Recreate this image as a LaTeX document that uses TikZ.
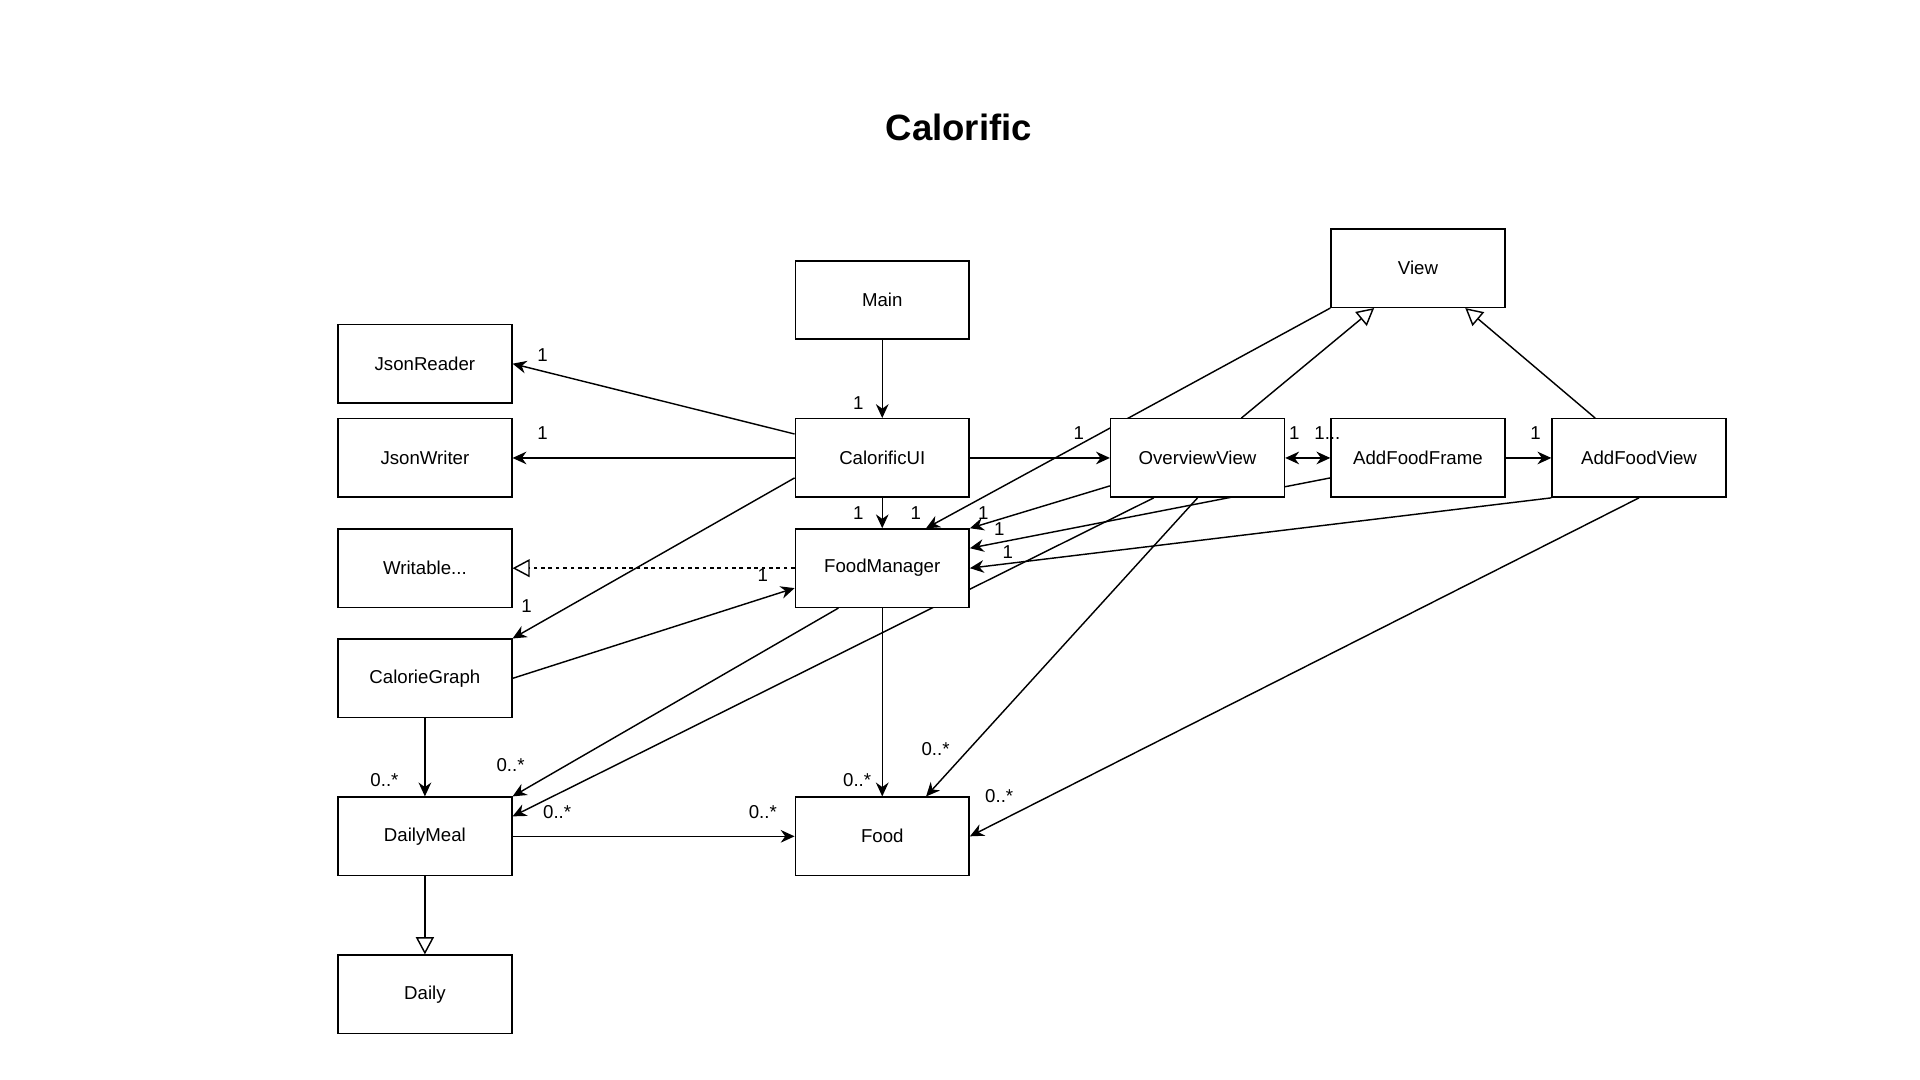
\documentclass[tikz,border=0pt]{standalone}
\usepackage{fontspec}
\setmainfont{Liberation Sans}
\usepackage{tikz}
\usetikzlibrary{arrows.meta, calc, backgrounds}
\tikzset{
    % one class of the model, a plain white box
    classbox/.style={draw, line width=1pt, fill=white, minimum width=42.6mm,
        minimum height=19.2mm, inner sep=0pt, font=\fontsize{13}{15}\selectfont},
    % associations with a filled head
    assoc/.style={-{Stealth[length=3.4mm, width=3.1mm]}, line width=1pt},
    % navigable both ways
    assocboth/.style={{Stealth[length=3.4mm, width=3.1mm]}-{Stealth[length=3.4mm, width=3.1mm]},
        line width=1pt},
    % generalisation, hollow triangle
    inherit/.style={-{Triangle[open, length=4.2mm, width=4.4mm]}, line width=1pt},
    % realisation of an interface
    realize/.style={inherit, dash pattern=on 0.9mm off 0.9mm},
    % multiplicities next to the ends
    mult/.style={font=\fontsize{13}{15}\selectfont, inner sep=0pt},
}

\begin{document}
\begin{tikzpicture}[x=0.3mm, y=-0.3mm]
    \useasboundingbox (0,0) rectangle (1568,882);

    \node[font=\bfseries\fontsize{25.5}{30}\selectfont] (title) at (783,104) {Calorific};

    % ===== classes =====
    \node[classbox] (main)     at (720.5,245) {Main};
    \node[classbox] (jreader)  at (347,297)   {JsonReader};
    \node[classbox] (jwriter)  at (347,374)   {JsonWriter};
    \node[classbox] (calui)    at (720.5,374) {CalorificUI};
    \node[classbox] (overview) at (978,374)   {OverviewView};
    \node[classbox] (addframe) at (1158,374)  {AddFoodFrame};
    \node[classbox] (addview)  at (1338.5,374) {AddFoodView};
    \node[classbox] (view)     at (1158,219)  {View};
    \node[classbox] (writable) at (347,464)   {Writable...};
    \node[classbox] (foodmgr)  at (720.5,464) {FoodManager};
    \node[classbox] (graph)    at (347,554)   {CalorieGraph};
    \node[classbox] (meal)     at (347,683)   {DailyMeal};
    \node[classbox] (food)     at (720.5,683) {Food};
    \node[classbox] (daily)    at (347,812)   {Daily};

    % ===== connectors, kept under the boxes =====
    \begin{scope}[on background layer]
    \draw[assoc] (main) -- (calui);
    \draw[assoc] ($(calui.north west)!0.2!(calui.south west)$) -- (jreader.east);
    \draw[assoc] (calui.west) -- (jwriter.east);
    \draw[assoc] ($(calui.north west)!0.75!(calui.south west)$) -- (graph.north east);
    \draw[assoc] (calui) -- (foodmgr);
    \draw[assoc] (calui) -- (overview);
    \draw[realize] (foodmgr.west) -- (writable.east);
    \draw[assoc] (graph.east) -- ($(foodmgr.north west)!0.75!(foodmgr.south west)$);

    \draw[assoc] (view.south west) -- ($(foodmgr.north west)!0.75!(foodmgr.north east)$);
    \draw[assoc] ($(overview.north west)!0.85!(overview.south west)$) -- (foodmgr.north east);
    \draw[assoc] ($(addframe.north west)!0.75!(addframe.south west)$)
        -- ($(foodmgr.north east)!0.25!(foodmgr.south east)$);
    \draw[assoc] (addview.south west) -- (foodmgr.east);

    \draw[assoc] ($(overview.south west)!0.25!(overview.south east)$)
        -- ($(meal.north east)!0.25!(meal.south east)$);
    \draw[assoc] ($(foodmgr.south west)!0.25!(foodmgr.south east)$) -- (meal.north east);
    \draw[assoc] (foodmgr) -- (food);
    \draw[assoc] (overview.south) -- ($(food.north west)!0.75!(food.north east)$);
    \draw[assoc] (addview.south) -- (food.east);
    \draw[assoc] (graph) -- (meal);
    \draw[assoc] (meal) -- (food);
    \draw[inherit] (meal) -- (daily);

    \draw[inherit] ($(overview.north west)!0.75!(overview.north east)$)
        -- ($(view.south west)!0.25!(view.south east)$);
    \draw[inherit] ($(addview.north west)!0.25!(addview.north east)$)
        -- ($(view.south west)!0.77!(view.south east)$);
    \draw[assocboth] (overview) -- (addframe);
    \draw[assoc] (addframe) -- (addview);
    \end{scope}

    % ===== multiplicities =====
    \node[mult] (mMain)   at (701,329)  {1};
    \node[mult] (mRead)   at (443,290)  {1};
    \node[mult] (mWrite)  at (443,354)  {1};
    \node[mult] (mGraph)  at (430,495)  {1};
    \node[mult] (mMgrA)   at (701,419)  {1};
    \node[mult] (mMgrB)   at (748,419)  {1};
    \node[mult] (mMgrC)   at (803,419)  {1};
    \node[mult] (mMgrD)   at (816,432)  {1};
    \node[mult] (mMgrE)   at (823,451)  {1};
    \node[mult] (mWrt)    at (623,470)  {1};
    \node[mult] (mOver)   at (881,354)  {1};
    \node[mult] (mOvFr)   at (1057,354) {1};
    \node[mult] (mFrOv)   at (1084,354) {1...};
    \node[mult] (mFrView) at (1254,354) {1};

    \node[mult] (mMealA)  at (314,637)  {0..*};
    \node[mult] (mMealB)  at (417,625)  {0..*};
    \node[mult] (mMealC)  at (455,663)  {0..*};
    \node[mult] (mFoodA)  at (623,663)  {0..*};
    \node[mult] (mFoodB)  at (700,637)  {0..*};
    \node[mult] (mFoodC)  at (764,612)  {0..*};
    \node[mult] (mFoodD)  at (816,650)  {0..*};

\end{tikzpicture}
\end{document}
